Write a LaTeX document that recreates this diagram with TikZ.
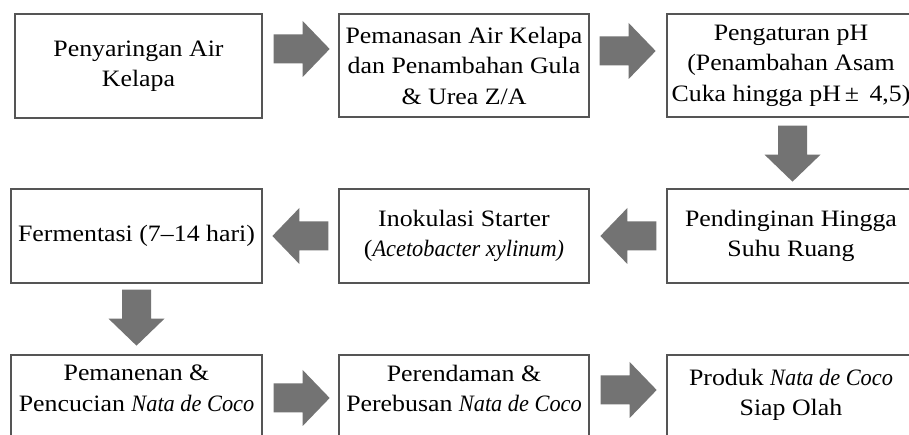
\documentclass[tikz,border=0pt]{standalone}
\usepackage{fontspec}
\setmainfont[FakeStretch=1.1,ItalicFeatures={FakeStretch=0.95}]{Liberation Serif}
\usetikzlibrary{calc}
\definecolor{boxline}{RGB}{85,85,85}
\definecolor{arrowgray}{RGB}{115,115,115}
\begin{document}
\begin{tikzpicture}[x=1pt,y=1pt,
  box/.style={draw=boxline,line width=1.3pt,rectangle,align=center,inner sep=0pt,
    font=\fontsize{23.5}{30.5}\selectfont},
  txt/.style={align=center,inner sep=0pt,font=\fontsize{23.5}{30.5}\selectfont},
  barrow/.pic={\fill[arrowgray] (0,-14.5) -- (29,-14.5) -- (29,-28) -- (56,0) -- (29,28) -- (29,14.5) -- (0,14.5) -- cycle;}]
\clip (0,0) rectangle (909,435);
\fill[white] (0,0) rectangle (909,435);
% row 1
\node[box,minimum width=247,minimum height=104] (b1) at (138.5,369) {Penyaringan Air\\Kelapa};
\node[box,minimum width=250,minimum height=103] (b2) at (464,369.5) {Pemanasan Air Kelapa\\dan Penambahan Gula\\\&\ Urea Z/A};
\node[box,minimum width=248,minimum height=103] (b3) at (791,369.5) {Pengaturan pH\\(Penambahan Asam\\Cuka hingga pH\,±\ \,4,5)};
% row 2
\node[box,minimum width=251,minimum height=94] (b4) at (136.5,199) {Fermentasi (7--14 hari)};
\node[box,minimum width=250,minimum height=94] (b5) at (464,199) {Inokulasi Starter\\(\textit{Acetobacter xylinum)}};
\node[box,minimum width=248,minimum height=94] (b6) at (791,199) {Pendinginan Hingga\\Suhu Ruang};
% row 3
\node[box,minimum width=251,minimum height=95] (b7) at (136.5,32.5) {};
\node[box,minimum width=250,minimum height=95] (b8) at (464,32.5) {};
\node[box,minimum width=248,minimum height=95] (b9) at (791,32.5) {};
\node[txt] (t7) at ($(b7.north)+(0,-34)$) {Pemanenan \&\\Pencucian \textit{Nata de Coco}};
\node[txt] (t8) at ($(b8.north)+(0,-34)$) {Perendaman \&\\Perebusan \textit{Nata de Coco}};
\node[txt] (t9) at ($(b9.north)+(0,-40.5)$) {Produk \textit{Nata de Coco}\\Siap Olah};
% block arrows
\pic at ($(b1.east)+(11,17)$) {barrow};
\pic at ($(b2.east)+(10,14.5)$) {barrow};
\pic[rotate=-90] at ($(b3.south)+(1.5,-8)$) {barrow};
\pic[rotate=180] at ($(b6.west)+(-10,0)$) {barrow};
\pic[rotate=180] at ($(b5.west)+(-10,0)$) {barrow};
\pic[rotate=-90] at ($(b4.south)+(0,-6)$) {barrow};
\pic at ($(b7.east)+(11,4.5)$) {barrow};
\pic at ($(b8.east)+(11,12.5)$) {barrow};
\end{tikzpicture}
\end{document}
